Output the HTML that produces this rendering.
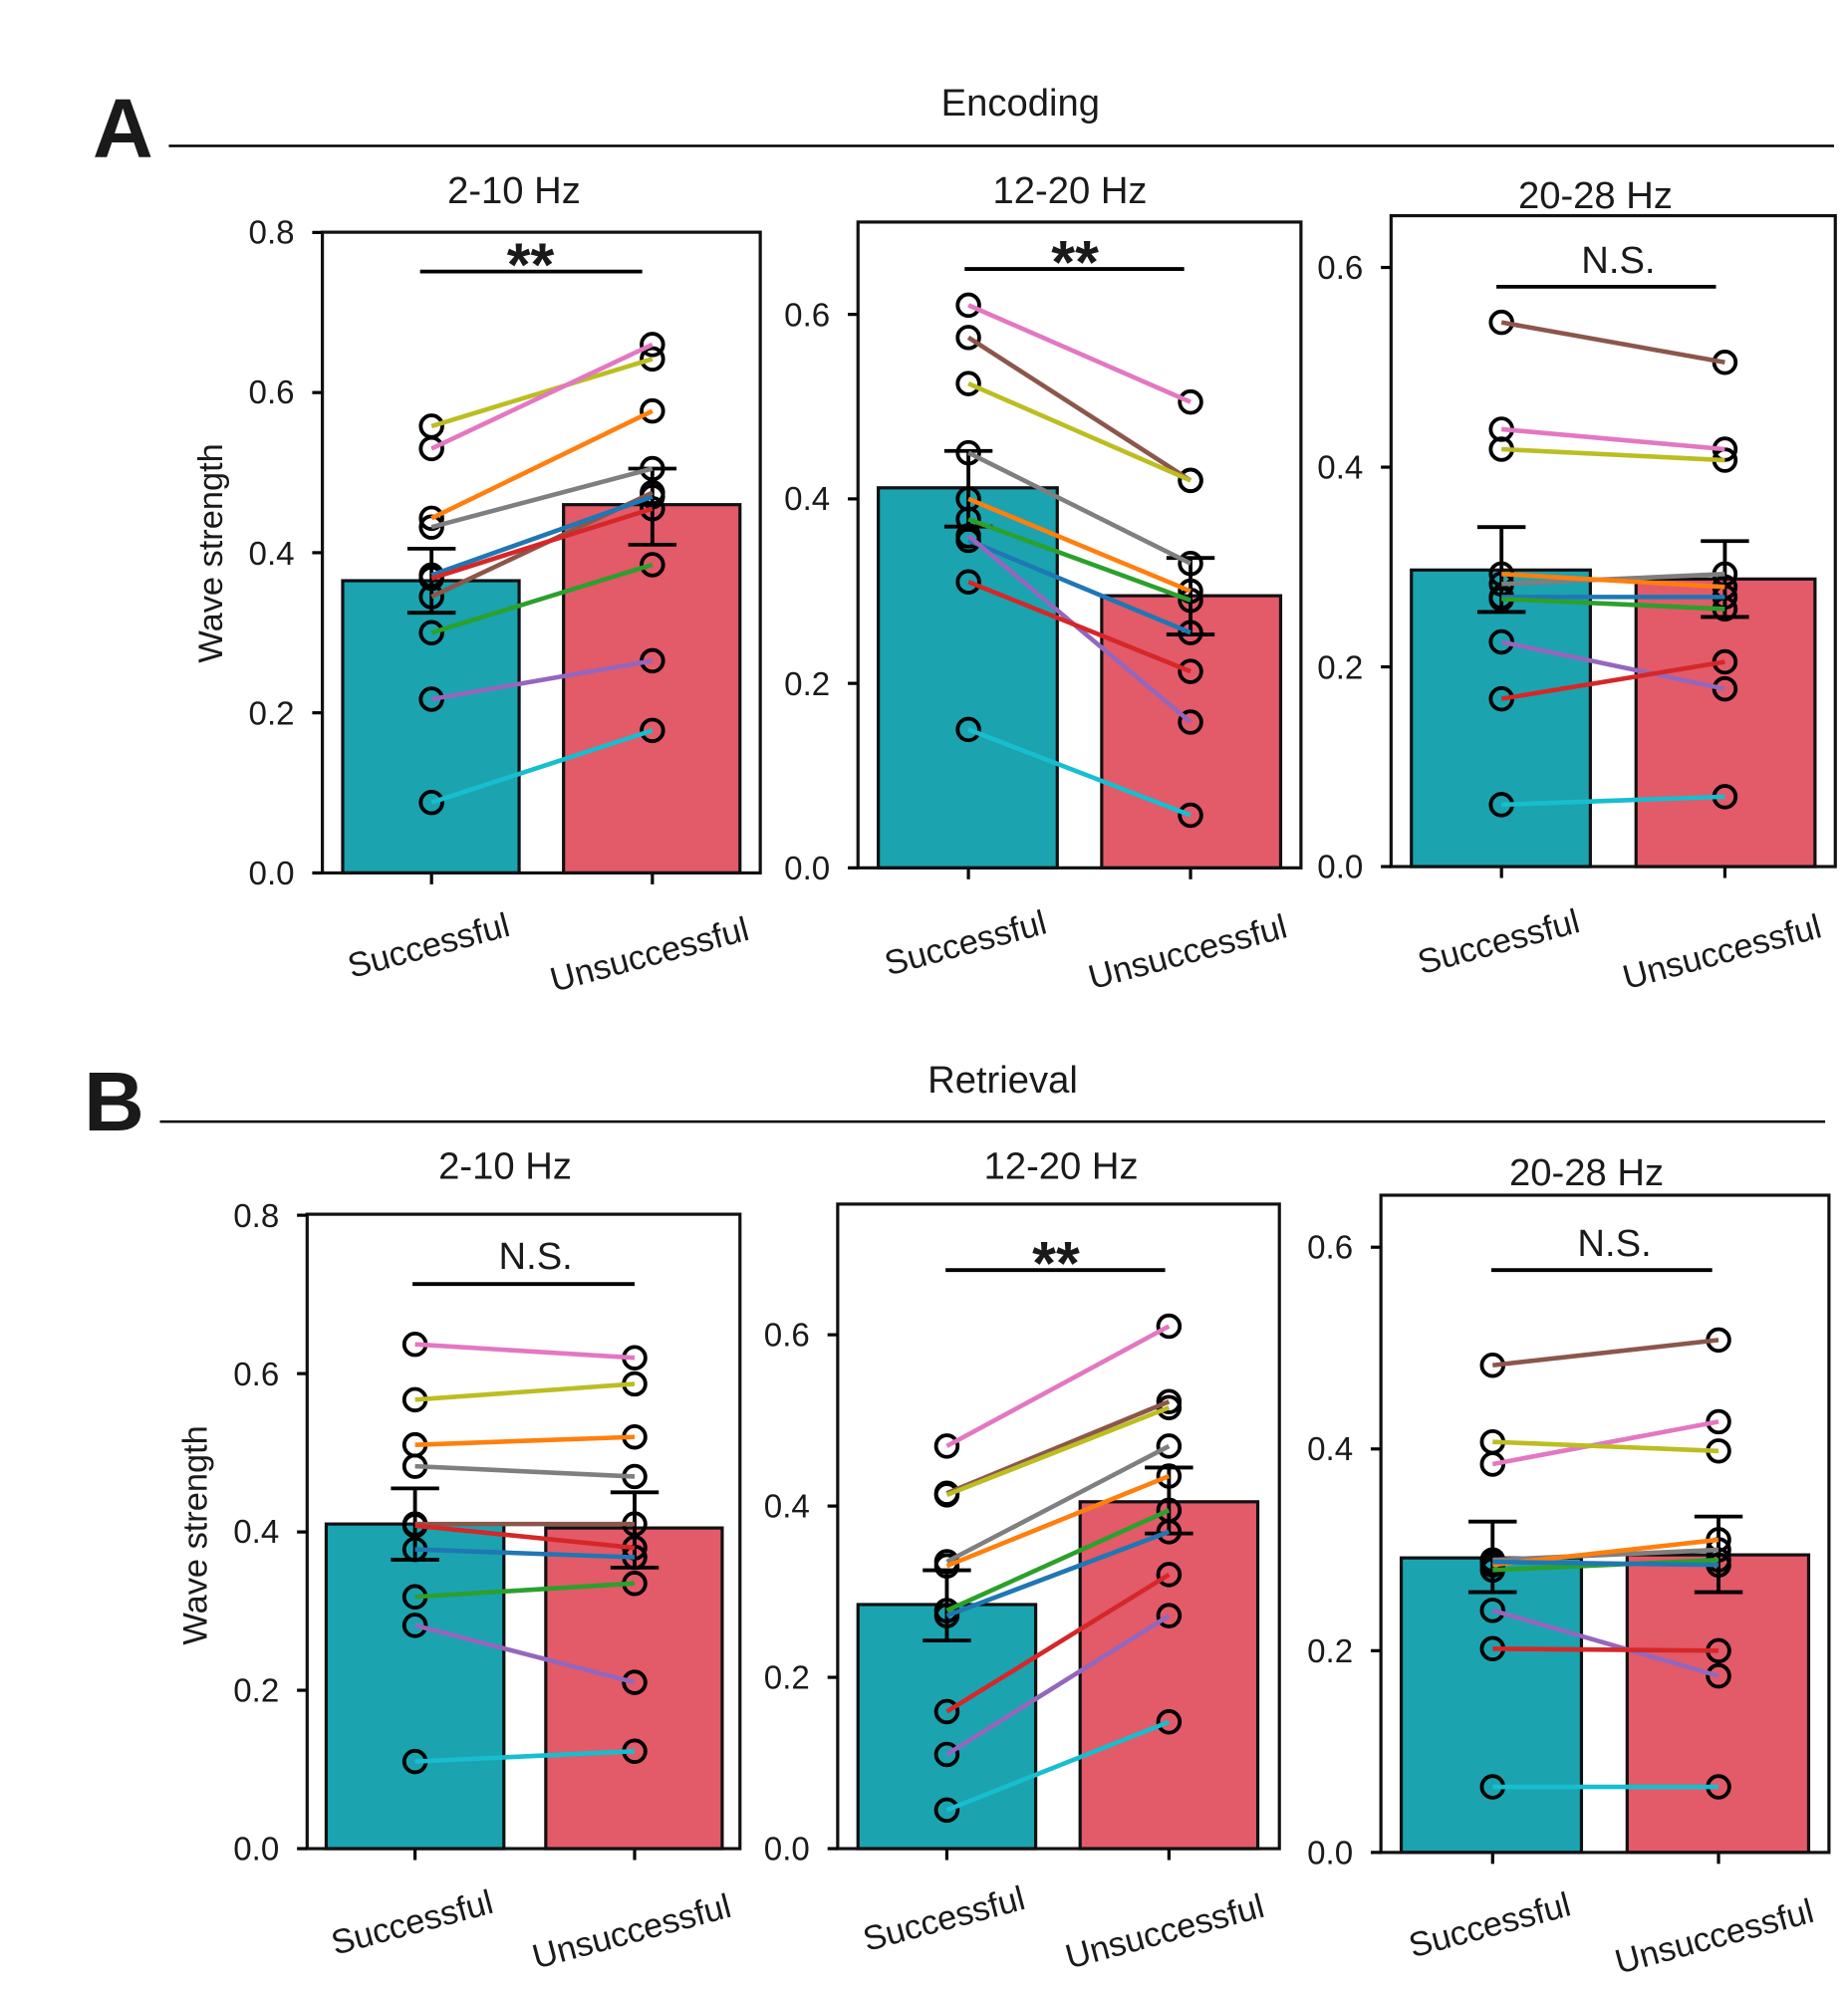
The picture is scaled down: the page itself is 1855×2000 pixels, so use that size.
<!DOCTYPE html>
<html><head><meta charset="utf-8"><style>
html,body{margin:0;padding:0;background:#fff;}
svg{display:block;}
text{font-family:"Liberation Sans",sans-serif;fill:#1a1a1a;}
.t{font-size:27px;}
.tk{font-size:26px;text-anchor:end;}
.h{font-size:30px;text-anchor:middle;}
</style></head><body>
<svg id="s" width="1855" height="2000" viewBox="0 0 1456 1570" preserveAspectRatio="none" xmlns="http://www.w3.org/2000/svg">
<g id="shapes"></g>
<text x="73" y="124" style="font-size:66px;font-weight:bold">A</text>
<line x1="133" y1="115" x2="1445" y2="115" stroke="#000" stroke-width="2"/>
<text x="804" y="91" class="h">Encoding</text>
<text x="66" y="891" style="font-size:66px;font-weight:bold">B</text>
<line x1="126" y1="884" x2="1438" y2="884" stroke="#000" stroke-width="2"/>
<text x="790" y="861" class="h">Retrieval</text>

<text x="405" y="160" class="h">2-10 Hz</text>
<text x="843" y="160" class="h">12-20 Hz</text>
<text x="1257" y="164" class="h">20-28 Hz</text>
<text x="398" y="929" class="h">2-10 Hz</text>
<text x="836" y="929" class="h">12-20 Hz</text>
<text x="1250" y="934" class="h">20-28 Hz</text>

<text class="tk" x="232" y="697">0.0</text><text class="tk" x="232" y="571">0.2</text><text class="tk" x="232" y="445">0.4</text><text class="tk" x="232" y="318">0.6</text><text class="tk" x="232" y="192">0.8</text>
<text class="tk" x="654" y="693">0.0</text><text class="tk" x="654" y="548">0.2</text><text class="tk" x="654" y="402">0.4</text><text class="tk" x="654" y="257">0.6</text>
<text class="tk" x="1074" y="692">0.0</text><text class="tk" x="1074" y="535">0.2</text><text class="tk" x="1074" y="377">0.4</text><text class="tk" x="1074" y="220">0.6</text>
<text class="tk" x="220" y="1466">0.0</text><text class="tk" x="220" y="1341">0.2</text><text class="tk" x="220" y="1216">0.4</text><text class="tk" x="220" y="1092">0.6</text><text class="tk" x="220" y="967">0.8</text>
<text class="tk" x="638" y="1466">0.0</text><text class="tk" x="638" y="1331">0.2</text><text class="tk" x="638" y="1196">0.4</text><text class="tk" x="638" y="1061">0.6</text>
<text class="tk" x="1066" y="1469">0.0</text><text class="tk" x="1066" y="1310">0.2</text><text class="tk" x="1066" y="1151">0.4</text><text class="tk" x="1066" y="992">0.6</text>

<text class="t" transform="translate(175,436) rotate(-90)" text-anchor="middle">Wave strength</text>
<text class="t" transform="translate(163,1210) rotate(-90)" text-anchor="middle">Wave strength</text>

<g class="t" text-anchor="middle">
<text transform="translate(340,754) rotate(-15)">Successful</text>
<text transform="translate(514,761) rotate(-15)">Unsuccessful</text>
<text transform="translate(763,752) rotate(-15)">Successful</text>
<text transform="translate(938,759) rotate(-15)">Unsuccessful</text>
<text transform="translate(1183,751) rotate(-15)">Successful</text>
<text transform="translate(1359,759) rotate(-15)">Unsuccessful</text>
<text transform="translate(327,1524) rotate(-15)">Successful</text>
<text transform="translate(500,1531) rotate(-15)">Unsuccessful</text>
<text transform="translate(746,1521) rotate(-15)">Successful</text>
<text transform="translate(920,1531) rotate(-15)">Unsuccessful</text>
<text transform="translate(1176,1526) rotate(-15)">Successful</text>
<text transform="translate(1353,1535) rotate(-15)">Unsuccessful</text>
</g>

<g style="font-size:48px;font-weight:bold" text-anchor="middle">
<text x="418" y="225">**</text>
<text x="847" y="223">**</text>
<text x="832" y="1012">**</text>
</g>
<g class="h">
<text x="1275" y="215">N.S.</text>
<text x="422" y="1000">N.S.</text>
<text x="1272" y="990">N.S.</text>
</g>
</svg>
<script>
var C={oy:'#bcbd22',pk:'#e377c2',or:'#ff7f0e',gr:'#7f7f7f',bl:'#1f77b4',rd:'#d62728',br:'#8c564b',gn:'#2ca02c',pu:'#9467bd',cy:'#17becf'};
var P=[
{bx:[254,599,183,688],z:688,k:631,c:[340,514],t:[270,409],r:[444,583],h:[0.365,0.46],e:[[0.325,0.405],[0.41,0.505]],sig:[331,506,214],
pts:[['oy',.558,.642],['pk',.53,.66],['or',.443,.577],['gr',.432,.505],['br',.345,.475],['bl',.372,.47],['rd',.368,.455],['gn',.3,.385],['pu',.217,.265],['cy',.088,.178]]},
{bx:[676,1025,175,684],z:684,k:727,c:[763,938],t:[692,833],r:[868,1009],h:[0.412,0.295],e:[[0.37,0.452],[0.253,0.336]],sig:[760,933,212],
pts:[['pk',.61,.505],['br',.575,.42],['oy',.525,.42],['gr',.45,.33],['or',.4,.3],['gn',.378,.29],['bl',.355,.255],['pu',.36,.158],['rd',.31,.213],['cy',.15,.057]]},
{bx:[1096,1446,170,683],z:683,k:787,c:[1183,1359],t:[1112,1253],r:[1289,1430],h:[0.297,0.288],e:[[0.255,0.34],[0.25,0.326]],sig:[1179,1352,226],
pts:[['br',.545,.505],['pk',.438,.418],['oy',.418,.407],['gr',.283,.293],['or',.293,.28],['bl',.27,.27],['gn',.268,.258],['pu',.225,.178],['rd',.168,.205],['cy',.062,.07]]},
{bx:[242,583,957,1457],z:1457,k:624,c:[327,500],t:[257,397],r:[430,569],h:[0.41,0.405],e:[[0.365,0.455],[0.355,0.45]],sig:[325,500,1012],
pts:[['pk',.637,.62],['oy',.567,.587],['or',.51,.52],['gr',.483,.47],['br',.41,.41],['rd',.408,.38],['bl',.378,.368],['gn',.318,.335],['pu',.282,.21],['cy',.11,.123]]},
{bx:[660,1008,949,1457],z:1457,k:675,c:[746,921],t:[676,816],r:[851,991],h:[0.285,0.405],e:[[0.243,0.325],[0.368,0.445]],sig:[745,918,1001],
pts:[['pk',.47,.61],['br',.415,.522],['oy',.413,.515],['gr',.335,.47],['or',.33,.435],['gn',.278,.395],['bl',.272,.37],['rd',.16,.32],['pu',.11,.272],['cy',.045,.148]]},
{bx:[1088,1441,942,1460],z:1460,k:795,c:[1176,1354],t:[1104,1246],r:[1282,1425],h:[0.292,0.295],e:[[0.258,0.328],[0.258,0.333]],sig:[1175,1349,1001],
pts:[['br',.483,.508],['pk',.385,.427],['oy',.407,.398],['gr',.29,.3],['or',.285,.31],['gn',.28,.29],['bl',.288,.285],['pu',.24,.175],['rd',.202,.2],['cy',.065,.065]]}
];
var s='';
P.forEach(function(p){
 var y=function(v){return p.z-p.k*v;};
 s+='<rect x="'+p.t[0]+'" y="'+y(p.h[0])+'" width="'+(p.t[1]-p.t[0])+'" height="'+(p.z-y(p.h[0]))+'" fill="#1ba3b0" stroke="#111" stroke-width="2.5"/>';
 s+='<rect x="'+p.r[0]+'" y="'+y(p.h[1])+'" width="'+(p.r[1]-p.r[0])+'" height="'+(p.z-y(p.h[1]))+'" fill="#e35a69" stroke="#111" stroke-width="2.5"/>';
 for(var i=0;i<2;i++){var x=p.c[i],a=y(p.e[i][0]),b=y(p.e[i][1]);
  s+='<path d="M'+x+' '+a+'V'+b+'M'+(x-19)+' '+a+'h38M'+(x-19)+' '+b+'h38" stroke="#000" stroke-width="3" fill="none"/>';
  s+='<line x1="'+x+'" y1="'+p.z+'" x2="'+x+'" y2="'+(p.z+9)+'" stroke="#000" stroke-width="2.5"/>';}
 p.pts.forEach(function(q){
  s+='<circle cx="'+p.c[0]+'" cy="'+y(q[1])+'" r="8.5" fill="none" stroke="#000" stroke-width="3"/>';
  s+='<circle cx="'+p.c[1]+'" cy="'+y(q[2])+'" r="8.5" fill="none" stroke="#000" stroke-width="3"/>';});
 p.pts.forEach(function(q){
  s+='<line x1="'+p.c[0]+'" y1="'+y(q[1])+'" x2="'+p.c[1]+'" y2="'+y(q[2])+'" stroke="'+C[q[0]]+'" stroke-width="3.6"/>';});
 s+='<line x1="'+p.sig[0]+'" y1="'+p.sig[2]+'" x2="'+p.sig[1]+'" y2="'+p.sig[2]+'" stroke="#000" stroke-width="3"/>';
 var b=p.bx;
 s+='<rect x="'+b[0]+'" y="'+b[2]+'" width="'+(b[1]-b[0])+'" height="'+(b[3]-b[2])+'" fill="none" stroke="#111" stroke-width="2.5"/>';
 for(var v=0;v<=0.81;v+=0.2){var yy=y(v);if(yy>=b[2]-2)s+='<line x1="'+(b[0]-8)+'" y1="'+yy+'" x2="'+b[0]+'" y2="'+yy+'" stroke="#000" stroke-width="2.5"/>';}
});
document.getElementById('shapes').innerHTML=s;
</script>
</body></html>
